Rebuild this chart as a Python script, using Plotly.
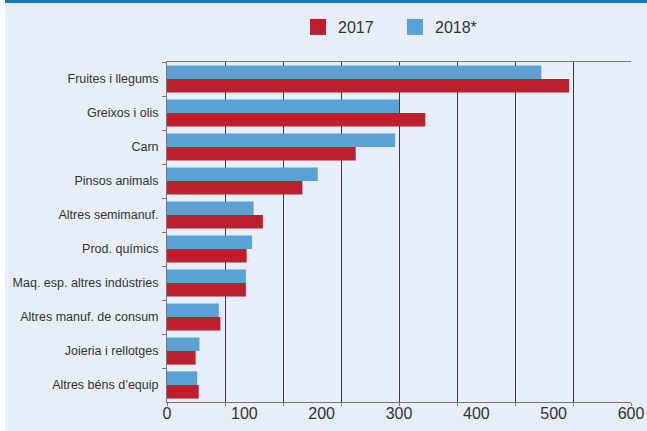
import plotly.graph_objects as go

categories = ["Fruites i llegums", "Greixos i olis", "Carn", "Pinsos animals",
              "Altres semimanuf.", "Prod. químics", "Maq. esp. altres indústries",
              "Altres manuf. de consum", "Joieria i rellotges", "Altres béns d’equip"]
values_2017 = [520, 334, 244, 175, 124, 103, 102, 69, 37, 41]
values_2018 = [484, 300, 295, 195, 112, 110, 102, 67, 42, 39]
x_labels = [0, 100, 200, 300, 400, 500, 600]
grid_vals = [0, 75, 150, 225, 300, 375, 450, 525, 600]

RED = "#be1e2d"
BLUE = "#5aa2d5"
BG = "#e7eef8"
FONT = "Liberation Sans, Arial, sans-serif"

W, H = 647, 431
ML, MR, MT, MB = 167, 16, 62, 29
PW, PH = W - ML - MR, H - MT - MB

fig = go.Figure()
fig.add_trace(go.Bar(y=categories, x=values_2018, orientation="h", name="2018*",
                     marker=dict(color=BLUE, line=dict(width=0)), showlegend=False))
fig.add_trace(go.Bar(y=categories, x=values_2017, orientation="h", name="2017",
                     marker=dict(color=RED, line=dict(width=0)), showlegend=False))
# legend entries
fig.add_trace(go.Scatter(x=[None], y=[None], mode="markers", name="2017",
                         marker=dict(symbol="square", size=16, color=RED), legendrank=1))
fig.add_trace(go.Scatter(x=[None], y=[None], mode="markers", name="2018*",
                         marker=dict(symbol="square", size=16, color=BLUE), legendrank=2))
# secondary axis for labels
fig.add_trace(go.Scatter(x=[None], y=[None], xaxis="x2", showlegend=False, hoverinfo="skip"))

fx = lambda px: (px - ML) / PW
fy = lambda py: 1 - (py - MT) / PH

fig.update_layout(
    width=W, height=H,
    margin=dict(l=ML, r=MR, t=MT, b=MB, autoexpand=False),
    paper_bgcolor=BG, plot_bgcolor=BG,
    barmode="group", bargap=0.2, bargroupgap=0,
    font=dict(family=FONT, color="#333333", size=13),
    showlegend=True,
    legend=dict(orientation="h", x=fx(298), y=fy(27), xanchor="left", yanchor="middle",
                font=dict(size=16, family=FONT, color="#333333"),
                bgcolor="rgba(0,0,0,0)", itemwidth=30, traceorder="normal",
                entrywidth=52, entrywidthmode="pixels"),
    xaxis=dict(range=[0, 600], tickvals=grid_vals, showticklabels=False,
               showgrid=True, gridcolor="#3c3c3c", gridwidth=1,
               ticks="outside", ticklen=3, tickcolor="#777777",
               showline=True, linecolor="#777777", linewidth=1, mirror=True,
               zeroline=False, fixedrange=True, automargin=False),
    xaxis2=dict(range=[0, 600], tickvals=x_labels, overlaying="x", side="bottom",
                anchor="y", showgrid=False, ticks="", showline=False, zeroline=False,
                tickfont=dict(size=16, family=FONT, color="#333333"), fixedrange=True,
                automargin=False),
    yaxis=dict(autorange="reversed", tickson="boundaries", ticks="outside", ticklen=4,
               tickcolor="#777777", showline=True, linecolor="#777777", linewidth=1,
               showgrid=False, zeroline=False, ticklabelstandoff=5, automargin=False,
               tickfont=dict(size=12.5, family=FONT, color="#333333"), fixedrange=True),
    shapes=[
        dict(type="rect", xref="paper", yref="paper", x0=fx(0), x1=fx(5), y0=fy(H), y1=fy(0),
             fillcolor="white", line=dict(width=0), layer="below"),
        dict(type="rect", xref="paper", yref="paper", x0=fx(5), x1=fx(W), y0=fy(3), y1=fy(0),
             fillcolor="#0a7cc2", line=dict(width=0), layer="above"),
    ],
)

fig.write_html("out.html", config={"displayModeBar": False},
               post_script="document.body.style.margin='0';document.body.style.padding='0';")
